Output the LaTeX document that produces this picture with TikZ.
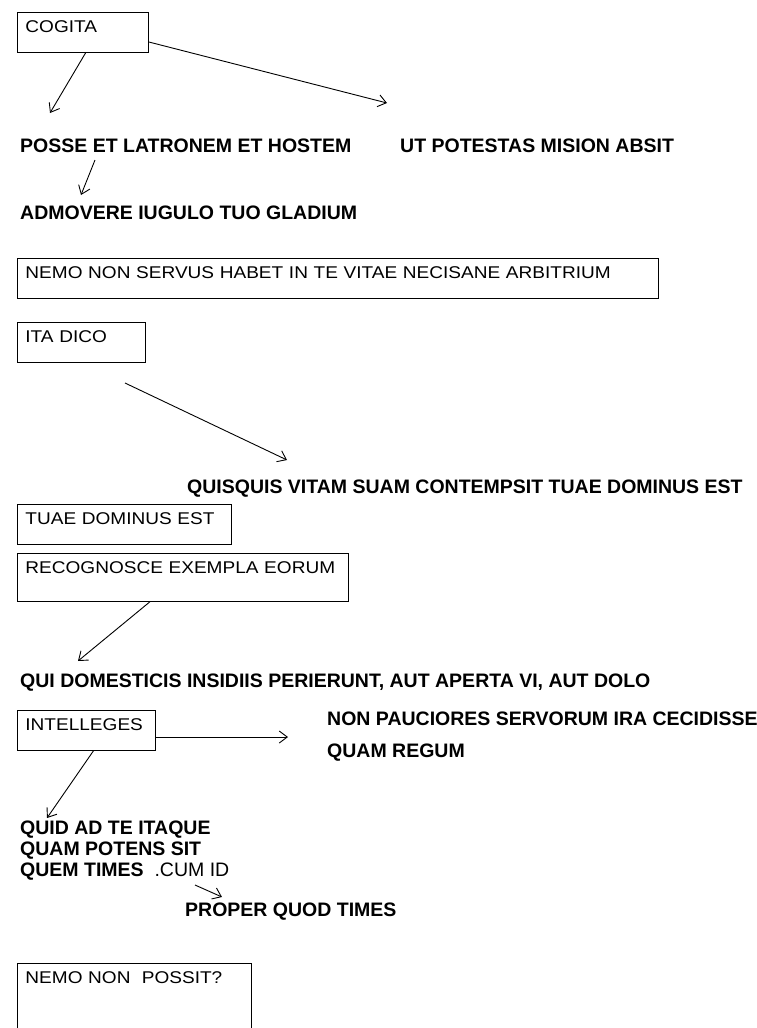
\documentclass[tikz,border=0pt]{standalone}
\usepackage{fontspec}
\setmainfont{Liberation Sans}
\newfontfamily\boxfont[FakeStretch=1.12]{Liberation Sans}
\usetikzlibrary{arrows.meta,calc}
\begin{document}
\begin{tikzpicture}[x=1pt,y=-1pt,
  box/.style={draw, line width=0.9pt, anchor=north west, inner xsep=8, inner ysep=0,
    text height=20, text depth=20, align=left, font=\boxfont\fontsize{17}{20}\selectfont},
  lbl/.style={anchor=west, inner sep=0, align=left,
    font=\fontsize{19.5}{21}\selectfont\bfseries},
  arr/.style={line width=0.9pt, -{Straight Barb[length=8,width=12]}}]
\useasboundingbox (0,0) rectangle (757,1028);
\clip (0,0) rectangle (757,1028);

% boxed statements
\node[box, text width=115] (cogita) at (17,12) {COGITA};
\node[box, text width=625] (nemo) at (17,258) {NEMO NON SERVUS HABET IN TE VITAE NECISANE ARBITRIUM};
\node[box, text width=112] (ita) at (17,322) {ITA DICO};
\node[box, text width=198] (tuae) at (17,504) {TUAE DOMINUS EST};
\node[box, text width=315, text depth=28] (recog) at (17,553) {RECOGNOSCE EXEMPLA EORUM};
\node[box, text width=122] (intel) at (17,710) {INTELLEGES};
\node[box, text width=218, text depth=60] (possit) at (17,963) {NEMO NON\ \ POSSIT?};

% free statements
\node[lbl] (posse) at (20,146) {POSSE ET LATRONEM ET HOSTEM};
\node[lbl] (ut) at (400,146) {UT POTESTAS MISION ABSIT};
\node[lbl] (admov) at (20,213) {ADMOVERE IUGULO TUO GLADIUM};
\node[lbl] (quis) at (187,489) {QUISQUIS VITAM SUAM CONTEMPSIT TUAE DOMINUS EST};
\node[lbl] (qui) at (20,683) {QUI DOMESTICIS INSIDIIS PERIERUNT, AUT APERTA VI, AUT DOLO};
\node[lbl] (nonp) at (327,719) {NON PAUCIORES SERVORUM IRA CECIDISSE};
\node[lbl] (quam) at (327,753) {QUAM REGUM};
\node[lbl] (quid) at (20,851) {QUID AD TE ITAQUE\\QUAM POTENS SIT\\QUEM TIMES\ \ {\mdseries .CUM ID}};
\node[lbl] (proper) at (185,912) {PROPER QUOD TIMES};

% loose ends of the connectors
\coordinate (c1) at (50,113);
\coordinate (c2) at (387,103);
\coordinate (p1) at (95,160);
\coordinate (p2) at (81,195);
\coordinate (i1) at (125,383);
\coordinate (i2) at (287,460);
\coordinate (r2) at (78,661);
\coordinate (n2) at (288,737);
\coordinate (n3) at (47,818);
\coordinate (q1) at (195,885);
\coordinate (q2) at (222,897);

% connectors
\draw[arr] ($(cogita.south west)!0.52!(cogita.south east)$) -- (c1);
\draw[arr] ($(cogita.north east)+(0,30)$) -- (c2);
\draw[arr] (p1) -- (p2);
\draw[arr] (i1) -- (i2);
\draw[arr] ($(recog.south west)!0.40!(recog.south east)$) -- (r2);
\draw[arr] ($(intel.north east)+(0,27)$) -- (n2);
\draw[arr] ($(intel.south west)!0.55!(intel.south east)$) -- (n3);
\draw[arr] (q1) -- (q2);
\end{tikzpicture}
\end{document}
